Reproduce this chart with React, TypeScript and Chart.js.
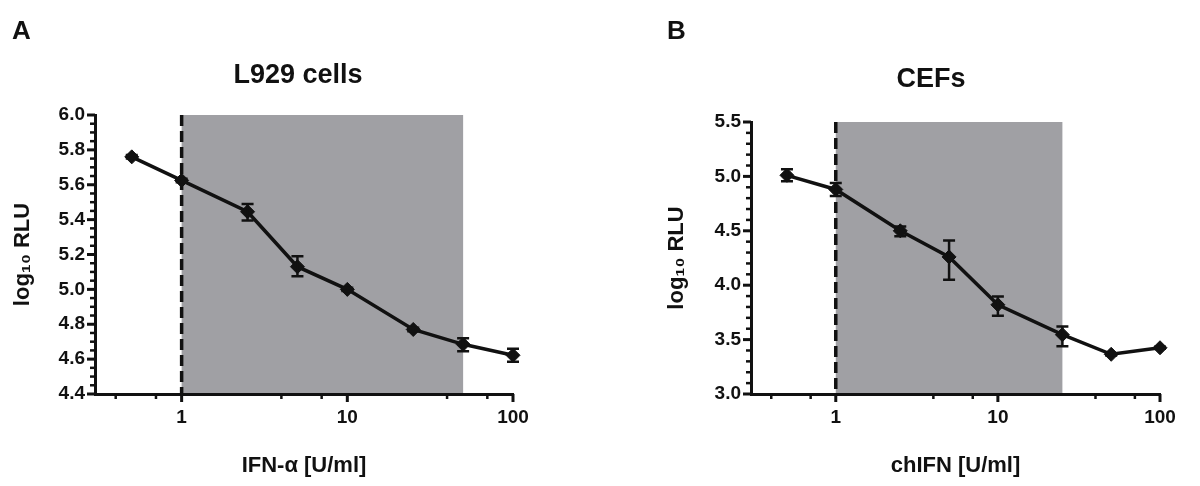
import React, { useEffect, useRef } from 'react';
import { Chart, registerables } from 'chart.js';

Chart.register(...registerables);

// ---------- data ----------
const doses = [0.5, 1, 2.5, 5, 10, 25, 50, 100];

const l929Mean = [5.76, 5.625, 5.445, 5.13, 5.0, 4.77, 4.685, 4.622];
const l929Low = [5.75, 5.615, 5.395, 5.075, 4.99, 4.76, 4.645, 4.585];
const l929High = [5.77, 5.635, 5.49, 5.19, 5.01, 4.78, 4.72, 4.66];

const cefMean = [5.01, 4.88, 4.5, 4.26, 3.82, 3.545, 3.365, 3.425];
const cefLow = [4.955, 4.82, 4.45, 4.05, 3.72, 3.44, 3.355, 3.415];
const cefHigh = [5.065, 4.94, 4.54, 4.41, 3.895, 3.62, 3.375, 3.435];

const xMajorTicks = [1, 10, 100];
const xMinorTicks = [0.4, 0.7, 4, 7, 40, 70];
const xRange = [0.3, 100];

const l929YRange = [4.4, 6.0];
const l929YStep = 0.2;
const l929YMinorStep = 0.05;
const cefYRange = [3.0, 5.5];
const cefYStep = 0.5;
const cefYMinorStep = 0.1;

const thresholdDose = 1;
const l929Shade = [1, 50];
const cefShade = [1, 25];

// ---------- styling ----------
const FONT = "'Liberation Sans', Arial, Helvetica, sans-serif";
const INK = '#111111';
const SHADE = '#a0a0a4';

type PanelCfg = {
  left: number;
  letter: string;
  letterX: number;
  title: string;
  titleX: number;
  titleY: number;
  xTitle: string;
  yTitlePad: number;
  yAxisWidth: number;
  padTop: number;
  padRight: number;
  yRange: number[];
  yStep: number;
  yMinorStep: number;
  mean: number[];
  low: number[];
  high: number[];
  shade: number[];
};

function makePlugin(cfg: PanelCfg) {
  return {
    id: 'prismPanel' + cfg.letter,
    beforeDraw(chart: any) {
      const { ctx, chartArea, scales } = chart;
      const x0 = scales.x.getPixelForValue(cfg.shade[0]);
      const x1 = scales.x.getPixelForValue(cfg.shade[1]);
      ctx.save();
      ctx.fillStyle = SHADE;
      ctx.fillRect(x0, chartArea.top, x1 - x0, chartArea.bottom - chartArea.top);
      ctx.restore();
    },
    beforeDatasetsDraw(chart: any) {
      const { ctx, chartArea, scales } = chart;
      const xs = scales.x;
      const ys = scales.y;
      ctx.save();
      ctx.strokeStyle = INK;
      // threshold dashed line
      const xt = xs.getPixelForValue(thresholdDose);
      ctx.lineWidth = 3.5;
      ctx.setLineDash([11, 5]);
      ctx.beginPath();
      ctx.moveTo(xt, chartArea.top);
      ctx.lineTo(xt, chartArea.bottom);
      ctx.stroke();
      ctx.setLineDash([]);
      // x ticks
      ctx.lineWidth = 3;
      xMajorTicks.forEach((v) => {
        const p = xs.getPixelForValue(v);
        ctx.beginPath();
        ctx.moveTo(p, chartArea.bottom);
        ctx.lineTo(p, chartArea.bottom + 8);
        ctx.stroke();
      });
      ctx.lineWidth = 2.5;
      xMinorTicks.forEach((v) => {
        const p = xs.getPixelForValue(v);
        ctx.beginPath();
        ctx.moveTo(p, chartArea.bottom);
        ctx.lineTo(p, chartArea.bottom + 5);
        ctx.stroke();
      });
      // y ticks
      const [ymin, ymax] = cfg.yRange;
      const nMinor = Math.round((ymax - ymin) / cfg.yMinorStep);
      const perMajor = Math.round(cfg.yStep / cfg.yMinorStep);
      for (let i = 0; i <= nMinor; i++) {
        const v = ymin + i * cfg.yMinorStep;
        const p = ys.getPixelForValue(v);
        const major = i % perMajor === 0;
        ctx.lineWidth = major ? 3 : 2.5;
        ctx.beginPath();
        ctx.moveTo(chartArea.left - (major ? 8 : 5), p);
        ctx.lineTo(chartArea.left, p);
        ctx.stroke();
      }
      ctx.restore();
    },
    afterDatasetsDraw(chart: any) {
      const { ctx, scales } = chart;
      ctx.save();
      ctx.strokeStyle = INK;
      ctx.lineWidth = 2.5;
      doses.forEach((d, i) => {
        const px = scales.x.getPixelForValue(d);
        const pl = scales.y.getPixelForValue(cfg.low[i]);
        const ph = scales.y.getPixelForValue(cfg.high[i]);
        ctx.beginPath();
        ctx.moveTo(px, pl);
        ctx.lineTo(px, ph);
        ctx.moveTo(px - 6, pl);
        ctx.lineTo(px + 6, pl);
        ctx.moveTo(px - 6, ph);
        ctx.lineTo(px + 6, ph);
        ctx.stroke();
      });
      ctx.restore();
    },
    afterDraw(chart: any) {
      const { ctx } = chart;
      ctx.save();
      ctx.fillStyle = INK;
      ctx.font = `bold 26px ${FONT}`;
      ctx.textAlign = 'left';
      ctx.textBaseline = 'middle';
      ctx.fillText(cfg.letter, cfg.letterX, 32);
      ctx.font = `bold 27px ${FONT}`;
      ctx.textAlign = 'center';
      ctx.fillText(cfg.title, cfg.titleX, cfg.titleY);
      ctx.restore();
    },
  };
}

function Panel({ cfg }: { cfg: PanelCfg }) {
  const ref = useRef<HTMLCanvasElement>(null);
  useEffect(() => {
    if (!ref.current) return;
    const tickFont = { family: FONT, size: 19, weight: 'bold' as const };
    const titleFont = { family: FONT, size: 22, weight: 'bold' as const };
    const chart = new Chart(ref.current, {
      type: 'line',
      data: {
        datasets: [
          {
            data: doses.map((d, i) => ({ x: d, y: cfg.mean[i] })),
            borderColor: INK,
            backgroundColor: INK,
            borderWidth: 3.5,
            pointStyle: 'rectRot',
            pointRadius: 7,
            pointBackgroundColor: INK,
            pointBorderColor: INK,
            pointBorderWidth: 1,
            tension: 0,
            fill: false,
            clip: false as any,
          },
        ],
      },
      options: {
        responsive: false,
        animation: false,
        devicePixelRatio: 1,
        layout: { padding: { left: 0, right: cfg.padRight, top: cfg.padTop, bottom: 0 } },
        plugins: { legend: { display: false }, tooltip: { enabled: false } },
        scales: {
          x: {
            type: 'logarithmic',
            min: xRange[0],
            max: xRange[1],
            grid: { display: false, drawTicks: false },
            border: { display: true, color: INK, width: 3 },
            afterBuildTicks: (s: any) => {
              s.ticks = [...xMinorTicks, ...xMajorTicks]
                .sort((a, b) => a - b)
                .map((v) => ({ value: v, major: false }));
            },
            afterFit: (s: any) => {
              s.height = 92;
            },
            ticks: {
              autoSkip: false,
              maxRotation: 0,
              minRotation: 0,
              padding: 12,
              color: INK,
              font: tickFont,
              callback: (v: any) => (xMajorTicks.includes(Number(v)) ? String(v) : ''),
            },
            title: {
              display: true,
              text: cfg.xTitle,
              color: INK,
              font: titleFont,
              padding: { top: 0, bottom: 7 },
            },
          },
          y: {
            type: 'linear',
            min: cfg.yRange[0],
            max: cfg.yRange[1],
            grid: { display: false, drawTicks: false },
            border: { display: true, color: INK, width: 3 },
            afterFit: (s: any) => {
              s.width = cfg.yAxisWidth;
            },
            ticks: {
              stepSize: cfg.yStep,
              padding: 10,
              color: INK,
              font: tickFont,
              callback: (v: any) => Number(v).toFixed(1),
            },
            title: {
              display: true,
              text: 'log₁₀ RLU',
              color: INK,
              font: titleFont,
              padding: { top: cfg.yTitlePad, bottom: 0 },
            },
          },
        },
      } as any,
      plugins: [makePlugin(cfg)],
    });
    return () => chart.destroy();
  }, [cfg]);
  return (
    <canvas
      ref={ref}
      width={600}
      height={486}
      style={{ position: 'absolute', left: cfg.left, top: 0, width: 600, height: 486 }}
    />
  );
}

const panelA: PanelCfg = {
  left: 0,
  letter: 'A',
  letterX: 12,
  title: 'L929 cells',
  titleX: 298,
  titleY: 76,
  xTitle: 'IFN-α [U/ml]',
  yTitlePad: 10,
  yAxisWidth: 95,
  padTop: 115,
  padRight: 87,
  yRange: l929YRange,
  yStep: l929YStep,
  yMinorStep: l929YMinorStep,
  mean: l929Mean,
  low: l929Low,
  high: l929High,
  shade: l929Shade,
};

const panelB: PanelCfg = {
  left: 600,
  letter: 'B',
  letterX: 67,
  title: 'CEFs',
  titleX: 331,
  titleY: 80,
  xTitle: 'chIFN [U/ml]',
  yTitlePad: 64,
  yAxisWidth: 151,
  padTop: 122,
  padRight: 40,
  yRange: cefYRange,
  yStep: cefYStep,
  yMinorStep: cefYMinorStep,
  mean: cefMean,
  low: cefLow,
  high: cefHigh,
  shade: cefShade,
};

export default function App() {
  return (
    <div
      style={{
        position: 'fixed',
        left: 0,
        top: 0,
        width: 1200,
        height: 486,
        background: '#ffffff',
        overflow: 'hidden',
      }}
    >
      <Panel cfg={panelA} />
      <Panel cfg={panelB} />
    </div>
  );
}
